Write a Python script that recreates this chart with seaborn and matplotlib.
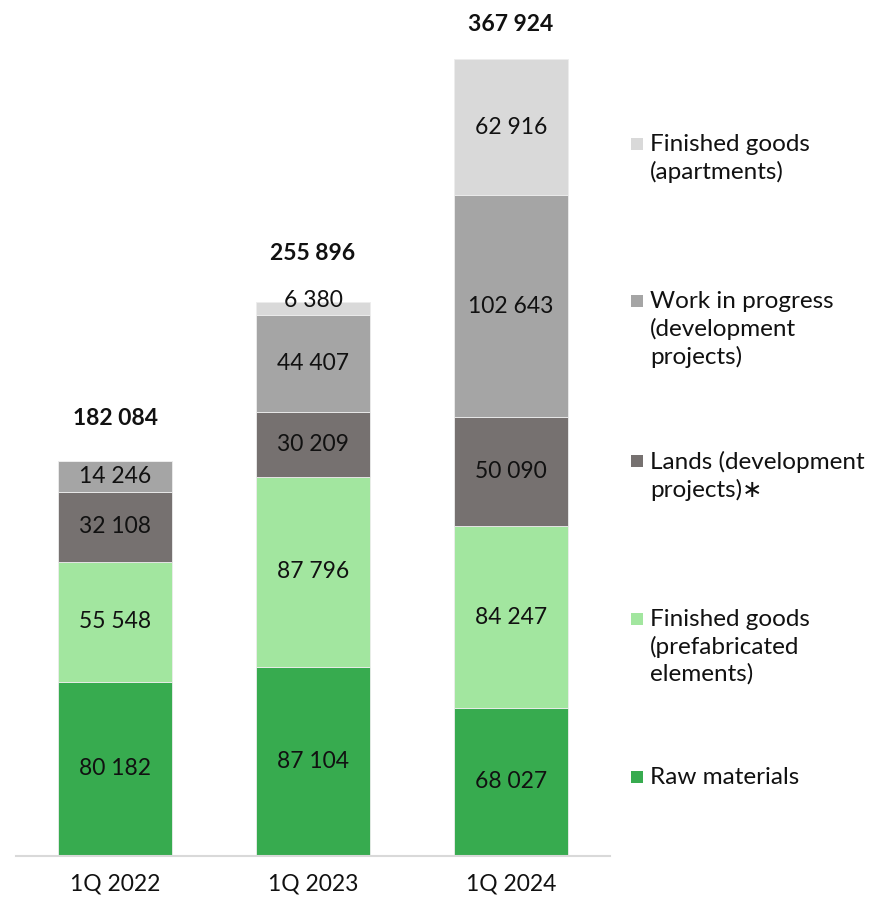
import numpy as np
import pandas as pd
import matplotlib
matplotlib.use("Agg")
import matplotlib.pyplot as plt
from matplotlib.patches import Rectangle
import seaborn as sns

quarters = ["1Q 2022", "1Q 2023", "1Q 2024"]
raw_materials = [80182, 87104, 68027]
prefab_goods = [55548, 87796, 84247]
lands = [32108, 30209, 50090]
work_in_progress = [14246, 44407, 102643]
apartments = [0, 6380, 62916]
totals = [182084, 255896, 367924]

series_names = [
    "Raw materials",
    "Finished goods\n(prefabricated\nelements)",
    "Lands (development\nprojects)\u2217",
    "Work in progress\n(development\nprojects)",
    "Finished goods\n(apartments)",
]
series_values = [raw_materials, prefab_goods, lands, work_in_progress, apartments]
colors = ["#37AB4F", "#A2E69F", "#767170", "#A5A5A5", "#D9D9D9"]

sns.set_theme(style="white")
plt.rcParams["font.family"] = ["Lato", "DejaVu Sans"]

W, H = 880, 901
fig = plt.figure(figsize=(W / 100, H / 100), dpi=100)
ax_left, ax_right = 16, 610
ax_bottom_px, ax_top_px = 855.5, 20
ax = fig.add_axes([ax_left / W, 1 - ax_bottom_px / H,
                   (ax_right - ax_left) / W, (ax_bottom_px - ax_top_px) / H])

def fmt(v):
    return f"{v:,}".replace(",", " ")

bottom = np.zeros(len(quarters))
for name, vals, col in zip(series_names, series_values, colors):
    df = pd.DataFrame({"quarter": quarters, "value": vals})
    sns.barplot(data=df, x="quarter", y="value", bottom=bottom, color=col,
                width=0.576, saturation=1, edgecolor="#EDEDED", linewidth=0.6,
                ax=ax)
    for i, v in enumerate(vals):
        if v <= 0:
            continue
        if v < 10000:
            ypos = bottom[i] + v + 600
        else:
            ypos = bottom[i] + v / 2
        ax.text(i, ypos, fmt(v), ha="center", va="center",
                fontsize=16.5, color="#111111")
    bottom = bottom + np.array(vals)

# totals above each stack
total_offsets = [19600, 22100, 16100]
for i, t in enumerate(totals):
    ax.text(i, t + total_offsets[i], fmt(t), ha="center", va="center",
            fontsize=16.5, fontweight="bold", color="#111111")

ax.set_xlim(-0.5, 2.5)
ax.set_ylim(0, 386000)
ax.set_xlabel("")
ax.set_ylabel("")
ax.set_yticks([])
for s in ["top", "right", "left"]:
    ax.spines[s].set_visible(False)
ax.spines["bottom"].set_color("#D9D9D9")
ax.spines["bottom"].set_linewidth(1.5)
ax.tick_params(axis="x", length=0, pad=13, labelsize=16.5, labelcolor="#111111")

# legend on the right, top entry first
legend_rows = [777, 619, 461, 301, 144]
for name, col, ypx in zip(series_names, colors, legend_rows):
    fig.add_artist(Rectangle((631 / W, 1 - (ypx + 6) / H), 12 / W, 12 / H,
                             transform=fig.transFigure, color=col, lw=0))
    fig.text(650 / W, 1 - (ypx - 10) / H, name, ha="left", va="top",
             fontsize=17.5, color="#111111", linespacing=1.32)

fig.savefig("out.png", dpi=100)
